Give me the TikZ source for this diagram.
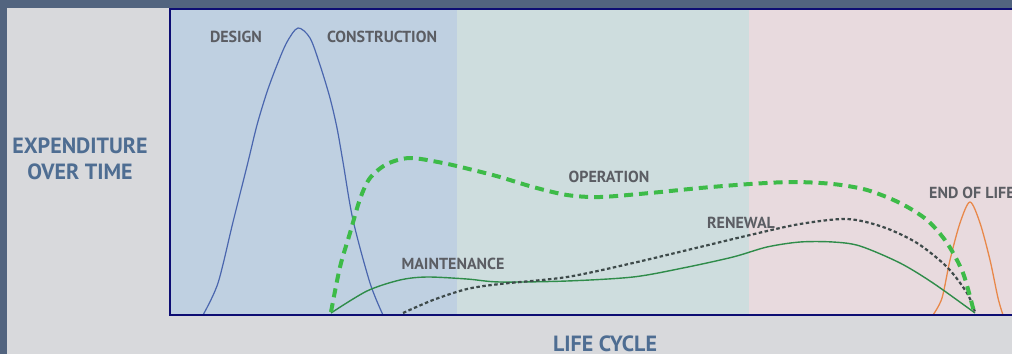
\documentclass[tikz,border=0pt]{standalone}
\usepackage{fontspec}
\setmainfont{PT Sans}
\definecolor{slate}{HTML}{52647F}
\definecolor{panelgray}{HTML}{D8D9DC}
\definecolor{designblue}{HTML}{BFD0E1}
\definecolor{opteal}{HTML}{CEDDDE}
\definecolor{eolpink}{HTML}{E8DADE}
\definecolor{framenavy}{HTML}{0D0D73}
\definecolor{labelgray}{HTML}{5B5D63}
\definecolor{axisblue}{HTML}{4E6D92}
\definecolor{capexblue}{HTML}{4A66AE}
\definecolor{opgreen}{HTML}{3DBB48}
\definecolor{maintgreen}{HTML}{2F8C4A}
\definecolor{renewgray}{HTML}{3E4A4A}
\definecolor{eolorange}{HTML}{E8884A}

\begin{document}
\begin{tikzpicture}[x=1pt,y=-1pt,
    phase/.style={font=\bfseries\fontsize{16}{19}\selectfont,text=labelgray,anchor=base,inner sep=0pt},
    axis/.style={font=\bfseries\fontsize{22}{26}\selectfont,text=axisblue,anchor=base,inner sep=0pt,text depth=0pt},
    curve/.style={line join=round,line cap=round}]
    \useasboundingbox (0,0) rectangle (1012,354);
    \fill[slate] (0,0) rectangle (1012,354);
    \fill[panelgray] (7,8) rectangle (1012,354);
    \fill[designblue] (170,9) rectangle (457,315);
    \fill[opteal] (457,9) rectangle (749,315);
    \fill[eolpink] (749,9) rectangle (1014,315);
    \draw[curve,capexblue,line width=1.2pt] plot[smooth] coordinates {
        (203,315) (218,283) (233,222) (248,162) (257,125) (267,92) (277,65)
        (287,42) (298,28) (310,38) (320,65) (330,98) (337,128) (343,162)
        (353,220) (370,283) (383,315)};
    \draw[curve,eolorange,line width=1.3pt] plot[smooth] coordinates {
        (933,315) (942,298) (950,260) (960,223) (970,202)
        (980,223) (990,260) (998,298) (1003,315)};
    \draw[maintgreen,line width=1.4pt,line join=round] plot[smooth] coordinates {
        (331,313) (367,291) (400,280) (427,277) (467,279) (500,282) (567,281)
        (633,277) (683,268) (733,257) (767,247) (800,242) (833,242) (860,246)
        (900,263) (933,283) (975,313)};
    \draw[renewgray,line width=2.2pt,dash pattern=on 3.5pt off 2.5pt] plot[smooth] coordinates {
        (403,313) (433,300) (467,289) (500,284) (567,277) (633,263) (700,247)
        (750,235) (800,224) (847,219) (883,227) (917,243) (947,267) (967,293) (975,312)};
    \draw[opgreen,line width=4pt,dash pattern=on 9pt off 6pt] plot[smooth] coordinates {
        (331,312) (340,267) (350,233) (360,199) (370,178) (387,164) (410,158)
        (443,163) (473,170) (500,177) (533,187) (567,195) (600,197) (650,193)
        (700,188) (750,184) (793,182) (833,184) (867,190) (900,203) (927,220)
        (947,243) (963,273) (974,312)};
    \draw[framenavy,line width=2pt] (170,9) rectangle (1020,315);
    \node[phase] (design) at (236,42) {DESIGN};
    \node[phase] (construction) at (382,42) {CONSTRUCTION};
    \node[phase] (operation) at (609,182) {OPERATION};
    \node[phase] (renewal) at (741,228) {RENEWAL};
    \node[phase] (maintenance) at (453,269) {MAINTENANCE};
    \node[phase,anchor=base west] (endoflife) at (929,198) {END OF LIFE};
    \node[axis] (expenditure) at (80,153) {EXPENDITURE};
    \node[axis] (overtime) at (80,179) {OVER TIME};
    \node[axis] (lifecycle) at (605,351.5) {LIFE CYCLE};
\end{tikzpicture}
\end{document}
